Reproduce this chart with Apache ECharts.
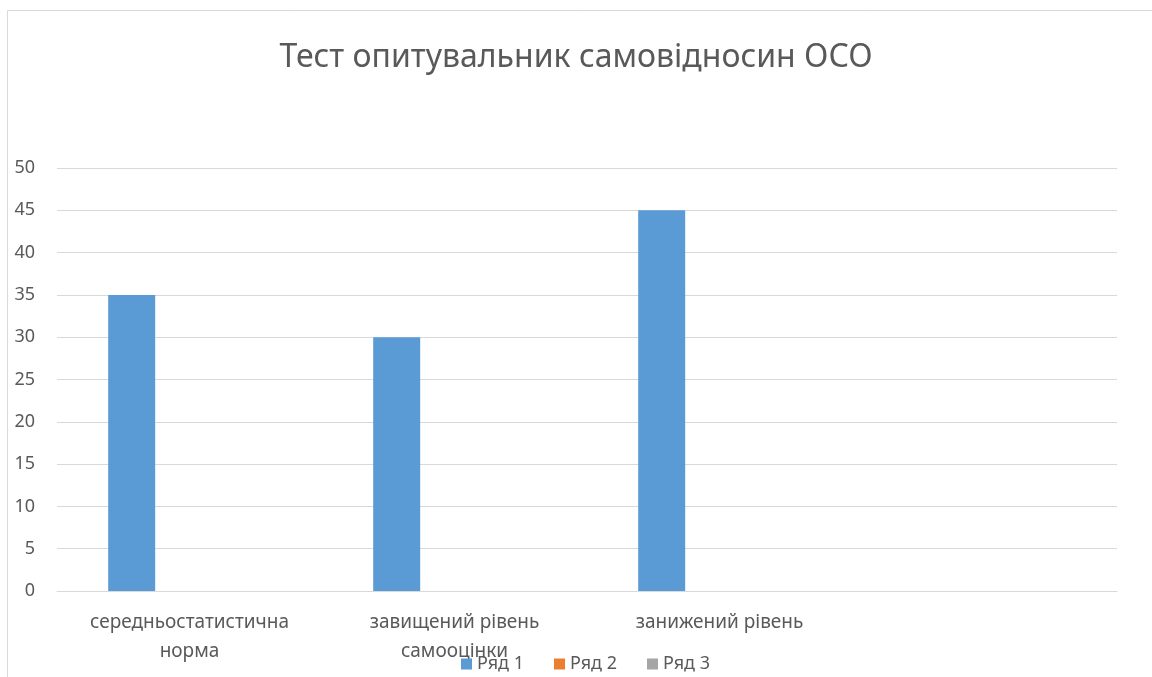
<!DOCTYPE html>
<html><head><meta charset="utf-8">
<script src="https://cdn.jsdelivr.net/npm/echarts@6/dist/echarts.min.js"></script>
<style>html,body{margin:0;padding:0;background:#fff}#c{width:1152px;height:677px}</style>
</head><body><div id="c"></div>
<script>
const titleText = "Тест опитувальник самовідносин ОСО";
const categories = ["середньостатистична норма", "завищений рівень самооцінки", "занижений рівень", ""];
const seriesNames = ["Ряд 1", "Ряд 2", "Ряд 3"];
const series1 = [35, 30, 45, null];
const series2 = [null, null, null, null];
const series3 = [null, null, null, null];
const colors = ["#5B9BD5", "#ED7D31", "#A5A5A5"];
const FONT = "'Noto Sans', sans-serif";
function wrapWords(s, maxChars) {
  const words = s.split(' ');
  const lines = [];
  let cur = '';
  for (const w of words) {
    if (cur && (cur + ' ' + w).length > maxChars) { lines.push(cur); cur = w; }
    else { cur = cur ? cur + ' ' + w : w; }
  }
  if (cur) lines.push(cur);
  return lines.join('\n');
}
const chart = echarts.init(document.getElementById('c'));
chart.setOption({
  animation: false,
  color: colors,
  graphic: [{type:'rect', shape:{x:7.5,y:10.5,width:1300,height:800}, style:{fill:'none', stroke:'#d9d9d9', lineWidth:1}, silent:true, z:-1}],
  title: {text: titleText, left: 'center', top: 37, textStyle:{fontFamily:FONT, fontWeight:'normal', fontSize:32, color:'#595959'}},
  legend: {left: 461, top: 655, padding: 0, itemWidth: 11, itemHeight: 11, itemGap: 30, icon: 'rect',
    textStyle:{fontFamily:FONT, fontSize:18, color:'#595959'}, data: seriesNames},
  grid: {left: 57, right: 35, top: 168, bottom: 86, outerBoundsMode: 'none', containLabel: false},
  xAxis: {type:'category', data: categories,
    axisLine:{lineStyle:{color:'#d9d9d9', width:1}}, axisTick:{show:false},
    axisLabel:{fontFamily:FONT, fontSize:19, color:'#595959', margin:17, lineHeight:29, interval:0, hideOverlap:false,
      formatter: v => wrapWords(v, 20)}},
  yAxis: {type:'value', min:0, max:50, interval:5,
    axisLine:{show:false}, axisTick:{show:false},
    splitLine:{lineStyle:{color:'#d9d9d9', width:1}},
    axisLabel:{fontFamily:FONT, fontSize:18, color:'#595959', margin:22}},
  series: [
    {name: seriesNames[0], type:'bar', data: series1, barWidth:47, barGap:'23%'},
    {name: seriesNames[1], type:'bar', data: series2, barWidth:47, barGap:'23%'},
    {name: seriesNames[2], type:'bar', data: series3, barWidth:47, barGap:'23%'}
  ]
});
</script></body></html>
